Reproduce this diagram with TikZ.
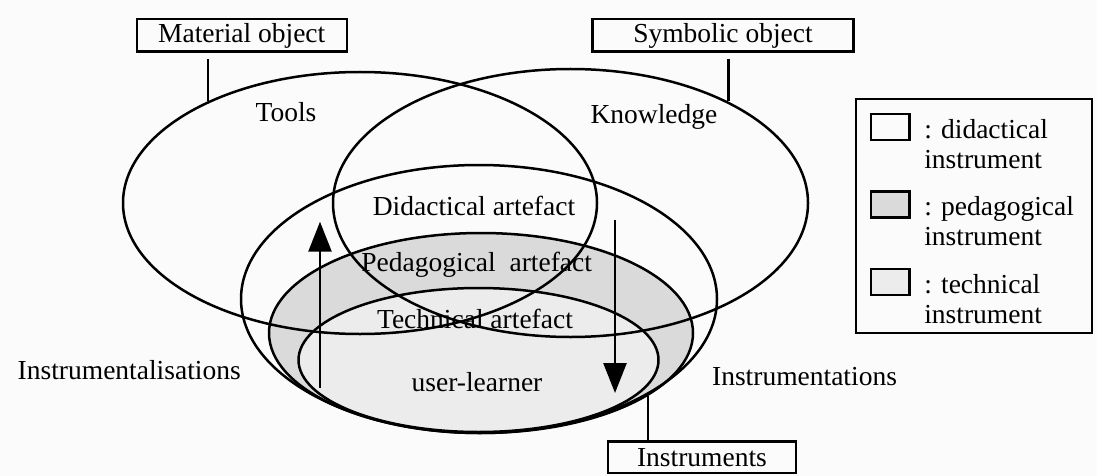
\documentclass[tikz,border=0pt]{standalone}
\usepackage{fontspec}
\setmainfont{Liberation Serif}
\usetikzlibrary{arrows.meta,positioning}
\definecolor{pedagray}{RGB}{218,218,218}
\definecolor{techgray}{RGB}{236,236,236}
\definecolor{papergray}{RGB}{251,251,251}
\newcommand{\textsz}{\fontsize{13.75}{15}\selectfont}
\newcommand{\keygap}{24.6pt}
\tikzset{
    outline/.style={draw=black, line width=1.25pt},
    labelbox/.style={draw, line width=1.2pt, minimum height=16.2pt, inner sep=0pt, font=\textsz},
    plain/.style={anchor=base, inner sep=0pt, font=\textsz},
    swatch/.style={draw, line width=1.2pt, minimum width=19.3pt, minimum height=13pt, inner sep=0pt},
    keytext/.style={anchor=north west, align=left, inner sep=0pt, font=\textsz},
    stem/.style={line width=1.2pt},
    flow/.style={line width=1.3pt, -{Triangle[length=15pt, width=11.5pt]}}
}

\begin{document}
\begin{tikzpicture}[x=0.5pt, y=-0.5pt]
    \fill[papergray] (0,0) rectangle (1097,476);
    \useasboundingbox (0,0) rectangle (1097,476);

    % shaded instruments first, all outlines on top
    \fill[pedagray] (481,333) ellipse [x radius=212, y radius=100];
    \fill[techgray] (478.5,360) ellipse [x radius=180, y radius=72];
    \draw[outline] (360,203) ellipse [x radius=237, y radius=131];
    \draw[outline] (570.5,203) ellipse [x radius=237.5, y radius=134];
    \draw[outline] (479,299) ellipse [x radius=238, y radius=134];
    \draw[outline] (481,333) ellipse [x radius=212, y radius=100];
    \draw[outline] (478.5,360) ellipse [x radius=180, y radius=72];

    % labels inside the ellipses
    \node[plain] (tools) at (286,122) {Tools};
    \node[plain] (knowledge) at (654,124) {Knowledge};
    \node[plain] (didart) at (474,215) {Didactical artefact};
    \node[plain] (pedart) at (476.7,271.7) {Pedagogical\ \ artefact};
    \node[plain] (techart) at (475,328) {Technical artefact};
    \node[plain] (learner) at (477,391.7) {user-learner};
    \node[plain, anchor=base west] (instzl) at (17.3,379) {Instrumentalisations};
    \node[plain, anchor=base west] (instz) at (711.7,385) {Instrumentations};

    % boxes and their stems
    \node[labelbox, minimum width=105pt] (material) at (241.7,35.5) {Material object};
    \node[labelbox, minimum width=130.4pt] (symbolic) at (723,35.5) {Symbolic object};
    \node[labelbox, minimum width=94pt, minimum height=15.7pt] (instruments) at (702,457.3) {Instruments};
    \coordinate (toolsrim) at (207.7,101);
    \coordinate (knowrim) at (728.3,101);
    \coordinate (instrim) at (648,396);
    \draw[stem, shorten <=3.3pt] (material.south -| toolsrim) -- (toolsrim);
    \draw[stem, shorten <=3.3pt] (symbolic.south -| knowrim) -- (knowrim);
    \draw[stem] (instrim) -- (instruments.north -| instrim);

    % the two processes
    \coordinate (upfoot) at (320,388);
    \coordinate (uphead) at (320,221.7);
    \coordinate (downfoot) at (615,220);
    \coordinate (downhead) at (615,393);
    \draw[flow] (upfoot) -- (uphead);
    \draw[flow] (downfoot) -- (downhead);

    % legend
    \node[draw, line width=1.2pt, minimum width=117.9pt, minimum height=116.7pt, inner sep=0pt] (legend) at (973.85,216) {};
    \node[swatch, fill=papergray] (key1) at (890,127) {};
    \node[swatch, fill=pedagray, below=\keygap of key1] (key2) {};
    \node[swatch, fill=techgray, below=\keygap of key2] (key3) {};
    \node[keytext] (keytxt1) at ([xshift=6.7pt, yshift=-3pt]key1.north east) {: didactical\\instrument};
    \node[keytext] (keytxt2) at ([xshift=6.7pt, yshift=-3pt]key2.north east) {: pedagogical\\instrument};
    \node[keytext] (keytxt3) at ([xshift=6.7pt, yshift=-3pt]key3.north east) {: technical\\instrument};
\end{tikzpicture}
\end{document}
